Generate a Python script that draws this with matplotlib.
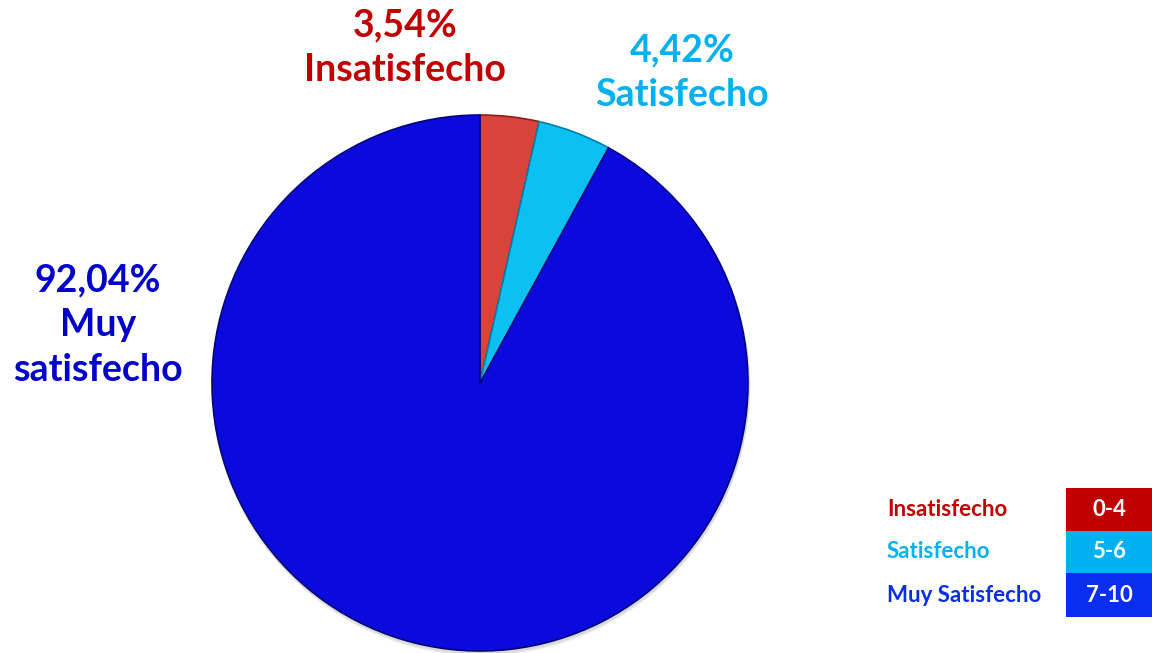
import matplotlib
matplotlib.use("Agg")
import matplotlib.pyplot as plt
from matplotlib.patches import Rectangle, Circle

categories = ["Insatisfecho", "Satisfecho", "Muy satisfecho"]
values = [3.54, 4.42, 92.04]
value_labels = ["3,54%", "4,42%", "92,04%"]
legend_names = ["Insatisfecho", "Satisfecho", "Muy Satisfecho"]
legend_ranges = ["0-4", "5-6", "7-10"]

pie_colors = ["#D8443C", "#0CC0F4", "#0A0ADC"]
edge_colors = ["#8A1E1A", "#0080A8", "#05057A"]
label_colors = ["#C00000", "#00B0F0", "#0000CC"]
legend_text_colors = ["#C00000", "#00B0F0", "#0A2EE6"]
legend_box_colors = ["#C00000", "#00B0F0", "#0A2EF0"]

plt.rcParams['font.family'] = ['Lato', 'DejaVu Sans']

W, H = 1152, 653
fig = plt.figure(figsize=(W / 100, H / 100), dpi=100)
ax = fig.add_axes([0, 0, 1, 1])
ax.set_xlim(0, W)
ax.set_ylim(0, H)
ax.set_aspect('equal')
ax.axis('off')

cx, cy, r = 480, H - 383, 268

# soft shadow
for i, a in enumerate([0.05, 0.05, 0.05]):
    ax.add_patch(Circle((cx + 1, cy - 2 - i), r + 1, color="black", alpha=a, lw=0, zorder=1))

wedges, _ = ax.pie(values, colors=pie_colors, startangle=90, counterclock=False,
                   center=(cx, cy), radius=r, frame=True,
                   wedgeprops=dict(linewidth=1.2, zorder=2))
for w, ec in zip(wedges, edge_colors):
    w.set_edgecolor(ec)
    w.set_zorder(2)
ax.set_xlim(0, W)
ax.set_ylim(0, H)
ax.axis('off')

big = 27
# slice labels
ax.text(405, H - 25, value_labels[0], color=label_colors[0], fontsize=big,
        fontweight='bold', ha='center', va='center')
ax.text(405, H - 70, categories[0], color=label_colors[0], fontsize=big,
        fontweight='bold', ha='center', va='center')
ax.text(682, H - 50, value_labels[1], color=label_colors[1], fontsize=big,
        fontweight='bold', ha='center', va='center')
ax.text(682, H - 95, categories[1], color=label_colors[1], fontsize=big,
        fontweight='bold', ha='center', va='center')
ax.text(98, H - 280, value_labels[2], color=label_colors[2], fontsize=big,
        fontweight='bold', ha='center', va='center')
ax.text(98, H - 325, "Muy", color=label_colors[2], fontsize=big,
        fontweight='bold', ha='center', va='center')
ax.text(98, H - 370, "satisfecho", color=label_colors[2], fontsize=big,
        fontweight='bold', ha='center', va='center')

# legend table
row_tops = [488, 531, 573]
row_h = [43, 42, 44]
for i in range(3):
    top = row_tops[i]
    h = row_h[i]
    ax.add_patch(Rectangle((1066, H - top - h), 86, h, color=legend_box_colors[i], lw=0, zorder=3))
    ax.text(1109, H - top - h / 2, legend_ranges[i], color="white", fontsize=16,
            fontweight='bold', ha='center', va='center', zorder=4)
    ax.text(887, H - top - h / 2, legend_names[i], color=legend_text_colors[i], fontsize=16,
            fontweight='bold', ha='left', va='center', zorder=4)

fig.savefig("out.png", dpi=100)
